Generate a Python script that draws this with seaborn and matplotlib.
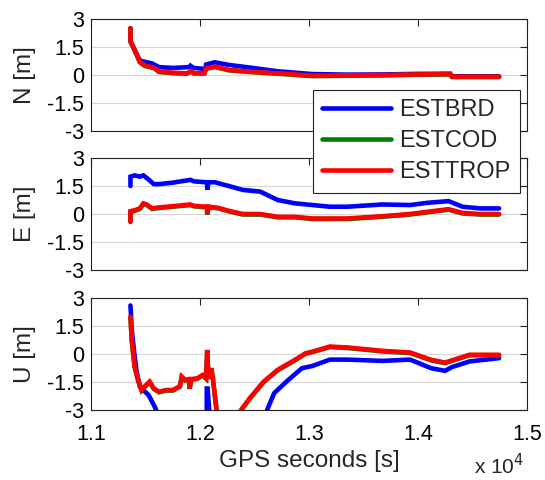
import numpy as np
import pandas as pd
import matplotlib
matplotlib.use("Agg")
import matplotlib.pyplot as plt
import seaborn as sns

sns.set_style("white")
plt.rcParams['font.family'] = ['Liberation Sans', 'DejaVu Sans']
plt.rcParams['axes.unicode_minus'] = False

series_names = ["ESTBRD", "ESTCOD", "ESTTROP"]
series_colors = ["#0000ff", "#008000", "#ff0000"]
panel_labels = ["N [m]", "E [m]", "U [m]"]
y_ticks = [-3, -1.5, 0, 1.5, 3]
y_tick_labels = ["-3", "-1.5", "0", "1.5", "3"]
x_ticks = [11000, 12000, 13000, 14000, 15000]
x_tick_labels = ["1.1", "1.2", "1.3", "1.4", "1.5"]

# ---- North ----
n_brd_x = [11362, 11362, 11400, 11448, 11496, 11560, 11624, 11752, 11900, 11912, 11930, 11944, 12050, 12056, 12136, 12264, 12456, 12712, 13032, 13352, 13672, 13992, 14296, 14312, 14744]
n_brd_y = [2.5, 1.8, 1.35, 0.78, 0.7, 0.62, 0.42, 0.38, 0.42, 0.5, 0.42, 0.38, 0.32, 0.56, 0.68, 0.54, 0.4, 0.2, 0.05, 0.02, 0.03, 0.06, 0.07, -0.07, -0.07]
n_cod_x = [11362, 11362, 11400, 11448, 11496, 11576, 11624, 11752, 11880, 11918, 11944, 12040, 12056, 12136, 12264, 12456, 12712, 13032, 13352, 13672, 13992, 14296, 14312, 14744]
n_cod_y = [2.5, 1.8, 1.33, 0.68, 0.48, 0.38, 0.16, 0.1, 0.07, 0.18, 0.08, 0.08, 0.33, 0.43, 0.25, 0.16, 0.07, -0.06, -0.04, -0.02, 0.01, 0.03, -0.11, -0.11]
n_trop_x = [11362, 11362, 11400, 11448, 11496, 11576, 11624, 11752, 11880, 11918, 11944, 12040, 12056, 12136, 12264, 12456, 12712, 13032, 13352, 13672, 13992, 14296, 14312, 14744]
n_trop_y = [2.5, 1.8, 1.35, 0.7, 0.5, 0.4, 0.18, 0.12, 0.09, 0.2, 0.1, 0.1, 0.35, 0.45, 0.27, 0.18, 0.09, -0.04, -0.02, 0.0, 0.03, 0.05, -0.09, -0.09]

# ---- East ----
e_brd_x = [11362, 11362, 11400, 11448, 11480, 11528, 11576, 11624, 11752, 11912, 11944, 12056, 12066, 12066, 12078, 12136, 12264, 12392, 12552, 12616, 12712, 12872, 13032, 13192, 13352, 13672, 13928, 14088, 14280, 14408, 14568, 14744]
e_brd_y = [1.5, 2.0, 2.07, 2.0, 2.07, 1.85, 1.6, 1.6, 1.68, 1.83, 1.75, 1.7, 1.7, 1.3, 1.7, 1.7, 1.5, 1.29, 1.2, 1.02, 0.75, 0.57, 0.48, 0.39, 0.39, 0.51, 0.48, 0.6, 0.69, 0.39, 0.3, 0.3]
e_cod_x = [11362, 11362, 11400, 11448, 11480, 11512, 11560, 11624, 11752, 11912, 11944, 12056, 12066, 12066, 12078, 12168, 12264, 12392, 12552, 12712, 12872, 13032, 13352, 13672, 13928, 14088, 14280, 14408, 14568, 14744]
e_cod_y = [-0.43, 0.12, 0.17, 0.27, 0.54, 0.48, 0.27, 0.32, 0.39, 0.48, 0.41, 0.36, 0.36, -0.03, 0.36, 0.3, 0.14, -0.03, -0.03, -0.18, -0.18, -0.27, -0.27, -0.15, -0.03, 0.09, 0.23, 0.03, -0.03, -0.03]
e_trop_x = [11362, 11362, 11400, 11448, 11480, 11512, 11560, 11624, 11752, 11912, 11944, 12056, 12066, 12066, 12078, 12168, 12264, 12392, 12552, 12712, 12872, 13032, 13352, 13672, 13928, 14088, 14280, 14408, 14568, 14744]
e_trop_y = [-0.4, 0.15, 0.2, 0.3, 0.57, 0.51, 0.3, 0.35, 0.42, 0.51, 0.44, 0.39, 0.39, 0.0, 0.39, 0.33, 0.17, 0.0, 0.0, -0.15, -0.15, -0.24, -0.24, -0.12, 0.0, 0.12, 0.26, 0.06, 0.0, 0.0]

# ---- Up ----
u_brd_x = [11362, 11374, 11394, 11416, 11448, 11480, 11528, 11576, 11598, 11700, 11900, 12050, 12062, 12062, 12070, 12088, 12200, 12400, 12600, 12616, 12680, 12808, 12936, 13032, 13192, 13352, 13672, 13928, 14120, 14248, 14312, 14472, 14744]
u_brd_y = [2.6, 1.3, 0.2, -0.85, -1.75, -1.93, -2.2, -2.73, -3.0, -4.5, -5.5, -6.0, -6.0, -1.85, -1.85, -3.3, -5.5, -5.0, -3.5, -3.0, -2.1, -1.4, -0.76, -0.64, -0.3, -0.3, -0.37, -0.3, -0.76, -0.9, -0.7, -0.4, -0.22]
u_cod_x = [11362, 11374, 11400, 11432, 11464, 11496, 11538, 11576, 11624, 11688, 11752, 11816, 11832, 11864, 11896, 11906, 11918, 11976, 12024, 12056, 12066, 12078, 12104, 12120, 12152, 12250, 12376, 12456, 12584, 12712, 12872, 12968, 13032, 13192, 13352, 13512, 13672, 13928, 14120, 14248, 14312, 14472, 14744]
u_cod_y = [1.97, 0.73, -0.7, -1.42, -1.96, -1.75, -1.51, -1.87, -2.05, -1.96, -1.96, -1.75, -1.24, -1.42, -1.38, -1.87, -1.38, -1.33, -1.15, -1.33, 0.19, -1.33, -0.79, -1.42, -3.03, -4.5, -3.03, -2.4, -1.51, -0.88, -0.34, 0.01, 0.1, 0.37, 0.32, 0.23, 0.14, 0.05, -0.34, -0.49, -0.37, -0.07, -0.07]
u_trop_x = [11362, 11374, 11400, 11432, 11464, 11496, 11538, 11576, 11624, 11688, 11752, 11816, 11832, 11864, 11896, 11906, 11918, 11976, 12024, 12056, 12066, 12078, 12104, 12120, 12152, 12250, 12376, 12456, 12584, 12712, 12872, 12968, 13032, 13192, 13352, 13512, 13672, 13928, 14120, 14248, 14312, 14472, 14744]
u_trop_y = [2.0, 0.76, -0.67, -1.39, -1.93, -1.72, -1.48, -1.84, -2.02, -1.93, -1.93, -1.72, -1.21, -1.39, -1.35, -1.84, -1.35, -1.3, -1.12, -1.3, 0.22, -1.3, -0.76, -1.39, -3.0, -4.5, -3.0, -2.37, -1.48, -0.85, -0.31, 0.04, 0.13, 0.4, 0.35, 0.26, 0.17, 0.08, -0.31, -0.46, -0.34, -0.04, -0.04]

panels = [
    [(n_brd_x, n_brd_y), (n_cod_x, n_cod_y), (n_trop_x, n_trop_y)],
    [(e_brd_x, e_brd_y), (e_cod_x, e_cod_y), (e_trop_x, e_trop_y)],
    [(u_brd_x, u_brd_y), (u_cod_x, u_cod_y), (u_trop_x, u_trop_y)],
]

fig = plt.figure(figsize=(5.45, 4.80), dpi=100)
left, width = 91 / 545, 436 / 545
tops = [19, 158, 298]
axh = 112
axes = []
for i, top in enumerate(tops):
    ax = fig.add_axes([left, 1 - (top + axh) / 480, width, axh / 480])
    axes.append(ax)
    for (xs, ys), name, col in zip(panels[i], series_names, series_colors):
        df = pd.DataFrame({"t": xs, "v": ys})
        sns.lineplot(data=df, x="t", y="v", ax=ax, color=col, lw=3.3,
                     sort=False, estimator=None, label=name if i == 0 else None,
                     legend=False, solid_joinstyle="miter")
    ax.set_xlim(11000, 15000)
    ax.set_ylim(-3, 3)
    ax.set_yticks(y_ticks)
    ax.set_yticklabels(y_tick_labels)
    ax.set_xticks(x_ticks)
    if i == 2:
        ax.set_xticklabels(x_tick_labels)
        ax.set_xlabel("GPS seconds [s]", fontsize=17.5, labelpad=4)
    else:
        ax.set_xticklabels([])
        ax.set_xlabel("")
    ax.set_ylabel(panel_labels[i], fontsize=17.5, labelpad=8)
    ax.tick_params(axis="both", which="both", direction="in", length=5, width=0.8,
                   top=True, right=True, labelsize=15.5, colors="#222222",
                   labelcolor="black")
    ax.tick_params(axis="y", pad=5)
    ax.tick_params(axis="x", pad=10)
    ax.yaxis.grid(True, color="#d6d6d6", lw=0.8)
    ax.xaxis.grid(False)
    ax.set_axisbelow(True)
    for s in ax.spines.values():
        s.set_color("#222222")
        s.set_linewidth(0.8)
        s.set_visible(True)

handles, labels = axes[0].get_legend_handles_labels()
leg = fig.legend(handles, labels, loc="upper left", bbox_to_anchor=(313 / 545, 1 - 90 / 480),
                 bbox_transform=fig.transFigure, fontsize=17, frameon=True, fancybox=False,
                 edgecolor="#222222", framealpha=1, handlelength=2.9, handletextpad=0.35,
                 labelspacing=0.38, borderpad=0.4, borderaxespad=0)
leg.get_frame().set_linewidth(0.8)
for line in leg.get_lines():
    line.set_linewidth(3.3)

fig.text(524 / 545, 1 - 474 / 480, r"x 10$^{4}$", fontsize=15, ha="right", va="baseline")

fig.savefig("out.png", dpi=100)
